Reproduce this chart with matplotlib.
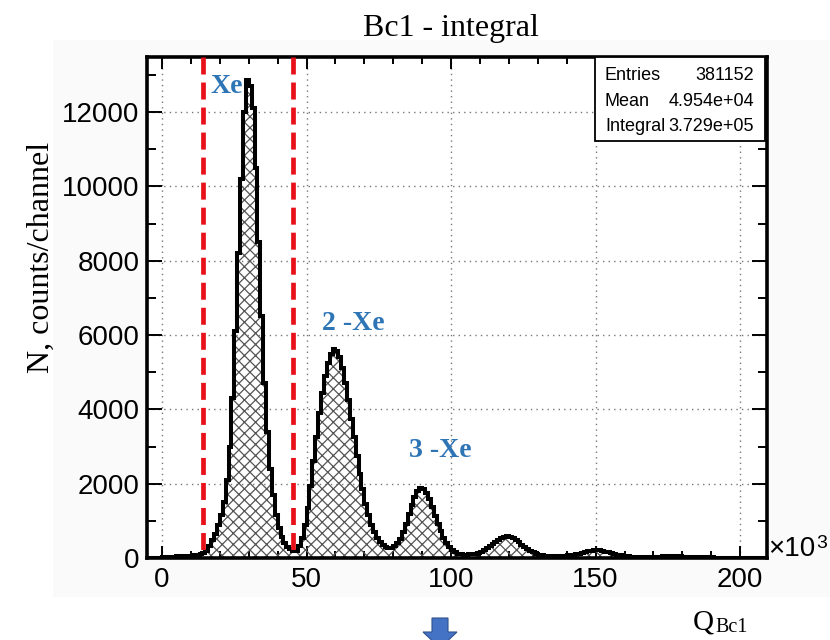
import numpy as np
import matplotlib
matplotlib.use("Agg")
import matplotlib.pyplot as plt
from matplotlib.patches import Rectangle, Polygon
from matplotlib.ticker import MultipleLocator

# ---------------- data (x in units of 10^3) ----------------
bin_start = -5
bin_width = 1
counts = [
    0, 0, 0, 0, 0,
    15, 20, 25, 30, 40, 45, 50, 55, 55, 60, 65, 70, 80, 95, 130,
    200, 330, 480, 650, 900, 1150, 1500, 2100, 3000, 4300,
    6100, 8200, 10200, 12000, 12850, 12700, 12100, 10500, 8500, 6500,
    4700, 3400, 2400, 1700, 1150, 800, 560, 400, 300, 240, 200,
    200, 320, 550, 900, 1350, 1950, 2600, 3250, 3900, 4450,
    4900, 5250, 5500, 5620, 5580, 5400, 5100, 4700, 4250, 3750,
    3250, 2750, 2250, 1850, 1450, 1150, 900, 700, 550, 430, 350, 300,
    270, 280, 320, 400, 520, 700, 920, 1180, 1430, 1650,
    1800, 1880, 1850, 1750, 1580, 1370, 1140, 920, 720, 550,
    410, 300, 220, 160, 120, 100, 90, 90, 95, 105,
    115, 140, 170, 210, 260, 310, 370, 430, 490, 540,
    570, 580, 565, 530, 480, 420, 360, 300, 240, 190,
    150, 115, 90, 75, 65, 60, 55, 55, 55, 55, 60, 65,
    70, 80, 90, 105, 120, 140, 160, 180, 195, 205,
    210, 205, 190, 170, 150, 125, 105, 85, 70, 60,
    50, 45, 40, 38, 35, 33, 32, 30, 30, 30,
    32, 35, 40, 45, 48, 50, 50, 48, 45, 42,
    40, 38, 35, 30, 25, 22, 20, 18, 16, 15,
    14, 13, 12, 12, 11, 10, 10, 9, 9, 8,
    8, 7, 7, 6, 6, 5, 5, 5, 4, 4,
]
cut_lines = [14.2, 45.3]
peak_labels = ["Xe", "2 -Xe", "3 -Xe"]
peak_label_x = [16.8, 55.2, 85.6]
peak_label_y = [12680, 6300, 2880]
stats_names = ["Entries", "Mean", "Integral"]
stats_values = ["381152", "4.954e+04", "3.729e+05"]
x_ticks = [0, 50, 100, 150, 200]
y_ticks = [0, 2000, 4000, 6000, 8000, 10000, 12000]
title = "Bc1 - integral"
ylabel = "N, counts/channel"

# ---------------- figure ----------------
W, H = 830, 640
plt.rcParams["font.family"] = ["Liberation Sans", "DejaVu Sans"]
plt.rcParams["hatch.linewidth"] = 0.9
fig = plt.figure(figsize=(W / 100, H / 100), dpi=100)
fig.patch.set_facecolor("white")

def fx(px):
    return px / W

def fy(py):
    return 1 - py / H

# very light gray canvas of the pasted ROOT picture
fig.add_artist(Rectangle((fx(53), fy(597)), fx(830) - fx(53), fy(40) - fy(597),
                         transform=fig.transFigure, facecolor="#fafafa",
                         edgecolor="none", zorder=-5))

ax = fig.add_axes([fx(147), fy(558), fx(767) - fx(147), fy(57) - fy(558)])
ax.set_facecolor("white")

edges = bin_start + bin_width * np.arange(len(counts) + 1)
ax.stairs(counts, edges, fill=True, facecolor="none", edgecolor="#555555",
          hatch="xxx", linewidth=0, zorder=2)
ax.stairs(counts, edges, color="black", linewidth=2.9, zorder=3)

ax.set_xlim(-5.2, 209.3)
ax.set_ylim(0, 13480)

ytop = ax.get_ylim()[1]
for xc in cut_lines:
    ax.plot([xc, xc], [ytop, 0], color="#e8111a", lw=3.4,
            linestyle=(0, (3.6, 1.7)), zorder=4, dash_capstyle="butt")

ax.set_xticks(x_ticks)
ax.set_yticks(y_ticks)
ax.set_xticklabels([str(v) for v in x_ticks])
ax.set_yticklabels([str(v) for v in y_ticks])
ax.xaxis.set_minor_locator(MultipleLocator(10))
ax.yaxis.set_minor_locator(MultipleLocator(1000))
ax.grid(which="major", linestyle=(0, (1, 3)), color="#777777", lw=1.0, zorder=1)
ax.set_axisbelow(True)

ax.tick_params(which="both", direction="in", top=True, right=True, width=1.4,
               labelsize=20, colors="black")
ax.xaxis.set_tick_params(which="major", length=8.6, pad=6.5)
ax.xaxis.set_tick_params(which="minor", length=5)
ax.yaxis.set_tick_params(which="major", length=10.8, pad=5.5)
ax.yaxis.set_tick_params(which="minor", length=6.5)
for sp in ax.spines.values():
    sp.set_linewidth(2.6)

# peak labels
for lab, lx, ly in zip(peak_labels, peak_label_x, peak_label_y):
    ax.text(lx, ly, lab, color="#2E75B6", fontsize=20, fontweight="bold",
            family=["Liberation Serif", "DejaVu Serif"], ha="left", va="center",
            zorder=6)

# stats box
fig.add_artist(Rectangle((fx(595), fy(141)), fx(765) - fx(595), fy(57) - fy(141),
                         transform=fig.transFigure, facecolor="white",
                         edgecolor="black", lw=1.3, zorder=5))
for i, (n, v) in enumerate(zip(stats_names, stats_values)):
    by = 80 + i * 25.5
    fig.text(fx(605), fy(by), n, fontsize=13, ha="left", va="baseline", zorder=6)
    fig.text(fx(754), fy(by), v, fontsize=13, ha="right", va="baseline", zorder=6)

# axis exponent
fig.text(fx(768), fy(556), "\u00d710", fontsize=20, ha="left", va="baseline")
fig.text(fx(816), fy(548), "3", fontsize=14, ha="left", va="baseline")

# title and axis titles (serif)
serif = ["Liberation Serif", "DejaVu Serif"]
fig.text(fx(451), fy(36), title, fontsize=23, family=serif, ha="center", va="baseline")
fig.text(fx(41.5), fy(257), ylabel, fontsize=23, family=serif, rotation=90,
         ha="center", va="center")
fig.text(fx(693), fy(629), "Q", fontsize=21, family=serif, ha="left", va="baseline")
fig.text(fx(715), fy(632), "Bc1", fontsize=14.5, family=serif, ha="left", va="baseline")

# blue down arrow
arrow_px = [(432, 618), (448, 618), (448, 632), (457, 632), (440, 648),
            (423, 632), (432, 632)]
fig.add_artist(Polygon([(fx(a), fy(b)) for a, b in arrow_px], closed=True,
                       transform=fig.transFigure, facecolor="#4472C4",
                       edgecolor="#2F528F", lw=0.8, zorder=5))

fig.savefig("out.png", dpi=100)
